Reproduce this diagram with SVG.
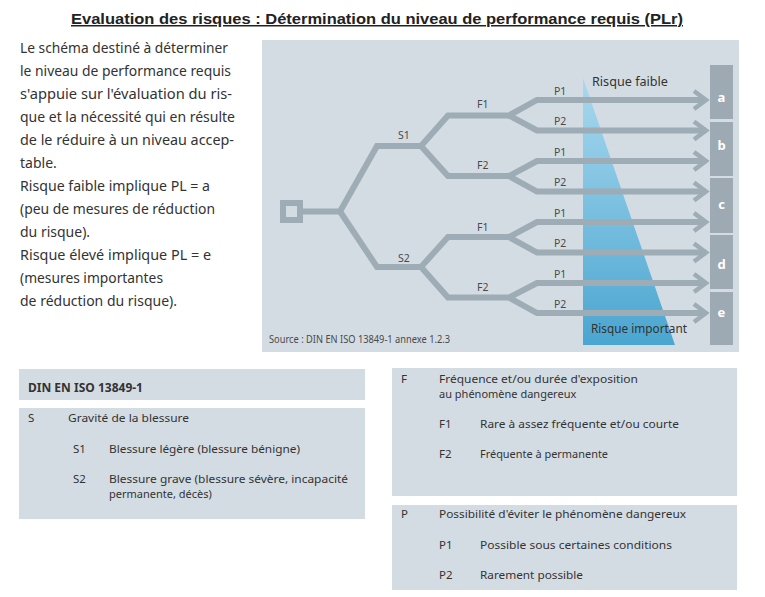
<svg xmlns="http://www.w3.org/2000/svg" width="765" height="597" viewBox="0 0 765 597">
<defs>
<linearGradient id="tri" x1="0" y1="0" x2="0" y2="1">
<stop offset="0" stop-color="#a9d8ef"/>
<stop offset="1" stop-color="#4aa6d0"/>
</linearGradient>
<marker id="chev" markerUnits="userSpaceOnUse" markerWidth="20" markerHeight="26" viewBox="0 0 20 26" refX="15" refY="13" orient="auto">
<path d="M3,4 L15,13 L3,22" fill="none" stroke="#9eacb5" stroke-width="4.5"/>
</marker>
<style>
.txt{font-family:"Noto Sans","Open Sans","DejaVu Sans",sans-serif;fill:#333;}
.para{font-size:14px;}
.tab{font-size:11.5px;}
.tab2{font-size:11px;}
.lbl{font-family:"Noto Sans","DejaVu Sans",sans-serif;font-size:10.5px;fill:#4a4a4a;}
.big{font-family:"Noto Sans","DejaVu Sans",sans-serif;font-size:13px;fill:#333;}
.conn{fill:none;stroke:#9eacb5;stroke-width:6;stroke-linejoin:miter;}
.box{fill:#9daab3;}
.let{font-family:"Noto Sans","DejaVu Sans",sans-serif;font-size:13px;font-weight:bold;fill:#fff;text-anchor:middle;}
.card{fill:#d4dce3;}
</style>
</defs>
<rect width="765" height="597" fill="#ffffff"/>

<g id="title">
<text x="71" y="24" font-family="Liberation Sans, Arial, sans-serif" font-size="15" font-weight="bold" fill="#222" text-decoration="underline" textLength="612" lengthAdjust="spacingAndGlyphs">Evaluation des risques : Détermination du niveau de performance requis (PLr)</text>
</g>

<g id="intro" class="txt para">
<text x="20" y="53" textLength="208" lengthAdjust="spacingAndGlyphs">Le schéma destiné à déterminer</text>
<text x="20" y="76" textLength="211" lengthAdjust="spacingAndGlyphs">le niveau de performance requis</text>
<text x="20" y="99" textLength="212" lengthAdjust="spacingAndGlyphs">s'appuie sur l'évaluation du ris-</text>
<text x="20" y="122" textLength="215" lengthAdjust="spacingAndGlyphs">que et la nécessité qui en résulte</text>
<text x="20" y="145" textLength="214" lengthAdjust="spacingAndGlyphs">de le réduire à un niveau accep-</text>
<text x="20" y="168">table.</text>
<text x="20" y="191" textLength="190" lengthAdjust="spacingAndGlyphs">Risque faible implique PL = a</text>
<text x="20" y="214" textLength="195" lengthAdjust="spacingAndGlyphs">(peu de mesures de réduction</text>
<text x="20" y="237">du risque).</text>
<text x="20" y="260" textLength="191" lengthAdjust="spacingAndGlyphs">Risque élevé implique PL = e</text>
<text x="20" y="283" textLength="143" lengthAdjust="spacingAndGlyphs">(mesures importantes</text>
<text x="20" y="306" textLength="157" lengthAdjust="spacingAndGlyphs">de réduction du risque).</text>
</g>

<g id="panel">
<rect x="262" y="40" width="477" height="312" fill="#d3dce3"/>
<polygon points="583,78 583,345 675,345" fill="url(#tri)"/>
<text class="big" x="592" y="86" textLength="76" lengthAdjust="spacingAndGlyphs">Risque faible</text>
<text class="big" x="591" y="333" textLength="96" lengthAdjust="spacingAndGlyphs">Risque important</text>
<text class="lbl" x="269" y="343" font-size="9" textLength="181" lengthAdjust="spacingAndGlyphs">Source : DIN EN ISO 13849-1 annexe 1.2.3</text>
</g>

<g id="connectors">
<path class="conn" marker-end="url(#chev)" d="M300,211.5 H340 L377,146 H421 L448,115.5 H509 L537,100 H706"/>
<path class="conn" marker-end="url(#chev)" d="M509,115.5 L537,130.5 H706"/>
<path class="conn" marker-end="url(#chev)" d="M421,146 L448,176 H509 L537,161 H706"/>
<path class="conn" marker-end="url(#chev)" d="M509,176 L537,191.5 H706"/>
<path class="conn" marker-end="url(#chev)" d="M340,211.5 L377,267 H421 L448,237 H509 L537,222 H706"/>
<path class="conn" marker-end="url(#chev)" d="M509,237 L537,252.5 H706"/>
<path class="conn" marker-end="url(#chev)" d="M421,267 L448,297.5 H509 L537,283 H706"/>
<path class="conn" marker-end="url(#chev)" d="M509,297.5 L537,313 H706"/>
</g>

<g id="root"><rect x="283" y="203" width="17" height="17" fill="none" stroke="#9eacb5" stroke-width="6"/></g>
<g id="S1"><text class="lbl" x="398" y="139">S1</text></g>
<g id="S2"><text class="lbl" x="398" y="262">S2</text></g>
<g id="F1a"><text class="lbl" x="477" y="108">F1</text></g>
<g id="F2a"><text class="lbl" x="477" y="169">F2</text></g>
<g id="F1b"><text class="lbl" x="477" y="231">F1</text></g>
<g id="F2b"><text class="lbl" x="477" y="291">F2</text></g>
<g id="P1a"><text class="lbl" x="554" y="95">P1</text></g>
<g id="P2a"><text class="lbl" x="554" y="125">P2</text></g>
<g id="P1b"><text class="lbl" x="554" y="156">P1</text></g>
<g id="P2b"><text class="lbl" x="554" y="186">P2</text></g>
<g id="P1c"><text class="lbl" x="554" y="217">P1</text></g>
<g id="P2c"><text class="lbl" x="554" y="247">P2</text></g>
<g id="P1d"><text class="lbl" x="554" y="278">P1</text></g>
<g id="P2d"><text class="lbl" x="554" y="308">P2</text></g>

<g id="PLa"><rect class="box" x="710" y="65" width="23" height="54"/><text class="let" x="721.5" y="102">a</text></g>
<g id="PLb"><rect class="box" x="710" y="122" width="23" height="54"/><text class="let" x="721.5" y="150">b</text></g>
<g id="PLc"><rect class="box" x="710" y="178" width="23" height="55"/><text class="let" x="721.5" y="209">c</text></g>
<g id="PLd"><rect class="box" x="710" y="235" width="23" height="54"/><text class="let" x="721.5" y="269">d</text></g>
<g id="PLe"><rect class="box" x="710" y="292" width="23" height="53"/><text class="let" x="721.5" y="317">e</text></g>

<g id="legendS" class="txt tab">
<rect class="card" x="19" y="369" width="346" height="31"/>
<text x="28" y="392" font-weight="bold" textLength="115" lengthAdjust="spacingAndGlyphs">DIN EN ISO 13849-1</text>
<rect class="card" x="19" y="408" width="346" height="111"/>
<text x="28" y="422">S</text>
<text x="68" y="422" textLength="121" lengthAdjust="spacingAndGlyphs">Gravité de la blessure</text>
<text x="73" y="453">S1</text>
<text x="109" y="453" textLength="191" lengthAdjust="spacingAndGlyphs">Blessure légère (blessure bénigne)</text>
<text x="73" y="483">S2</text>
<text x="109" y="483" class="tab2" textLength="239" lengthAdjust="spacingAndGlyphs">Blessure grave (blessure sévère, incapacité</text>
<text x="109" y="498" class="tab2">permanente, décès)</text>
</g>

<g id="legendF" class="txt tab">
<rect class="card" x="392" y="368" width="345" height="128"/>
<text x="401" y="383">F</text>
<text x="439" y="383" class="tab2" textLength="199" lengthAdjust="spacingAndGlyphs">Fréquence et/ou durée d'exposition</text>
<text x="439" y="398" class="tab2">au phénomène dangereux</text>
<text x="439" y="428">F1</text>
<text x="480" y="428" textLength="199" lengthAdjust="spacingAndGlyphs">Rare à assez fréquente et/ou courte</text>
<text x="439" y="458">F2</text>
<text x="480" y="458" textLength="128" lengthAdjust="spacingAndGlyphs">Fréquente à permanente</text>
</g>

<g id="legendP" class="txt tab">
<rect class="card" x="392" y="505" width="345" height="85"/>
<text x="401" y="518">P</text>
<text x="439" y="518" textLength="247" lengthAdjust="spacingAndGlyphs">Possibilité d'éviter le phénomène dangereux</text>
<text x="439" y="549">P1</text>
<text x="480" y="549" textLength="192" lengthAdjust="spacingAndGlyphs">Possible sous certaines conditions</text>
<text x="439" y="579">P2</text>
<text x="480" y="579" textLength="103" lengthAdjust="spacingAndGlyphs">Rarement possible</text>
</g>
</svg>
